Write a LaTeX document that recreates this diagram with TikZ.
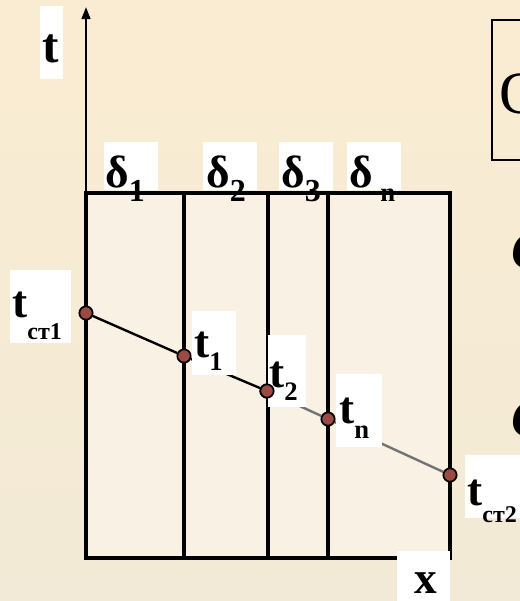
\documentclass[tikz,border=0pt]{standalone}
\usepackage{fontspec}
\setmainfont{Liberation Serif}
\usetikzlibrary{arrows.meta, positioning}
\definecolor{bgtop}{HTML}{FAECD2}
\definecolor{bgbot}{HTML}{F2EAD6}
\definecolor{wallfill}{HTML}{F9F2E4}
\definecolor{dotfill}{HTML}{9E4A44}
\newcommand{\lowsub}[3]{\raisebox{-#1}{\fontsize{#2}{#2}\selectfont #3}}
\tikzset{
  wall/.style    = {draw=black, line width=2.6pt},
  axisln/.style  = {draw=black, line width=1.6pt,
                    -{Triangle[length=9pt, width=6.5pt]}},
  wbox/.style    = {fill=white},
  tlbl/.style    = {font=\bfseries\fontsize{34}{34}\selectfont,
                    inner sep=0pt, anchor=base west},
  tdot/.style    = {circle, draw=black, fill=dotfill, line width=1.3pt,
                    minimum size=10pt, inner sep=0pt},
  seg/.style     = {draw=black, line width=1.8pt},
  seggray/.style = {draw=black!55, line width=1.8pt},
}

\begin{document}
\begin{tikzpicture}[x=0.75pt, y=-0.75pt]
  \useasboundingbox (0,0) rectangle (520,601);
  \shade[top color=bgtop, bottom color=bgbot] (0,0) rectangle (520,601);
  \clip (0,0) rectangle (520,601);

  % layered wall
  \fill[wallfill] (86,193) rectangle (450,558);
  \draw[wall] (86,193) rectangle (450,558);
  \foreach \xx in {184,268,328}
    \draw[wall] (\xx,193) -- (\xx,558);
  \draw[axisln] (86,194) -- (86,7);

  % temperature points
  \node[tdot] (p0) at (86,313)  {};
  \node[tdot] (p1) at (184,356) {};
  \node[tdot] (p2) at (267,391) {};
  \node[tdot] (pn) at (328,419) {};
  \node[tdot] (p3) at (450,475) {};
  \draw[seg]     (p0) -- (p1);
  \draw[seg]     (p1) -- (p2);
  \draw[seggray] (p2) -- (pn);
  \draw[seggray] (pn) -- (p3);

  % white label patches
  \fill[wbox] (40,6) rectangle (63,79);
  \fill[wbox] (104,142) rectangle (158,190);
  \fill[wbox] (203,142) rectangle (257,190);
  \fill[wbox] (279,142) rectangle (333,190);
  \fill[wbox] (347,142) rectangle (401,190);
  \fill[wbox] (10,270) rectangle (71,343);
  \fill[wbox] (192,311) rectangle (236,375);
  \fill[wbox] (268,335) rectangle (306,407);
  \fill[wbox] (336,374) rectangle (382,447);
  \fill[wbox] (465,455) rectangle (530,518);
  \fill[wbox] (397,551) rectangle (450,610);
  \node[tdot] at (p2) {};

  % labels
  \node[tlbl, font=\bfseries\fontsize{37}{37}\selectfont] (tax) at (42,62) {t};
  \node[tlbl] (d1) at (105,187) {δ\lowsub{10.5pt}{24}{1}};
  \node[tlbl] (d2) at (206,187) {δ\lowsub{10.5pt}{24}{2}};
  \node[tlbl] (d3) at (281,187) {δ\lowsub{10.5pt}{24}{3}};
  \node[tlbl] (dn) at (349,187) {δ\,\lowsub{10.5pt}{20}{n}};
  \node[tlbl] (lt0) at (12,317)  {t\lowsub{16.5pt}{18}{ст1}};
  \node[tlbl] (lt1) at (194,357) {t\lowsub{9.75pt}{20}{1}};
  \node[tlbl] (lt2) at (269,387) {t\lowsub{9.75pt}{20}{2}};
  \node[tlbl] (ltn) at (339,423) {t\lowsub{11.25pt}{20}{n}};
  \node[tlbl] (lt3) at (467,505) {t\lowsub{12.75pt}{18}{ст2}};
  \node[tlbl] (xax) at (414,593) {x};

  % cut-off items at the right edge
  \draw[line width=1.3pt] (492,20) rectangle (600,160);
  \node[tlbl, font=\fontsize{45}{45}\selectfont] (qq) at (499,113) {Q};
  \node[tlbl, font=\bfseries\itshape\fontsize{40}{40}\selectfont] (q1) at (511,268) {Q};
  \node[tlbl, font=\bfseries\itshape\fontsize{40}{40}\selectfont] (q2) at (511,436) {Q};
\end{tikzpicture}
\end{document}
